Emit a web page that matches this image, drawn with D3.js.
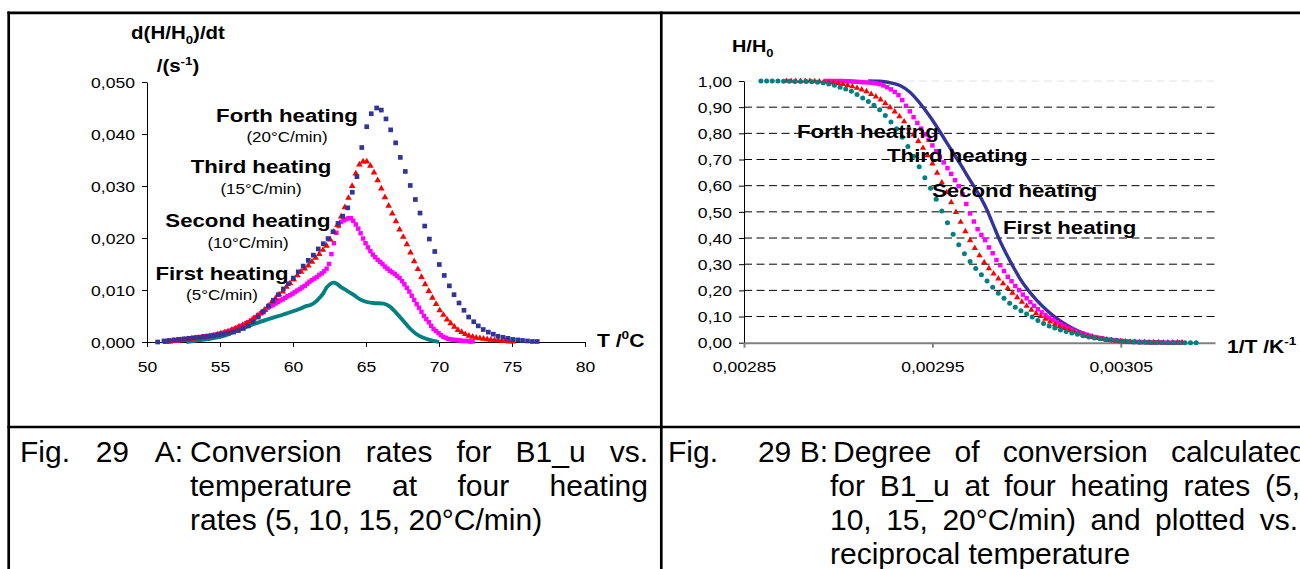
<!DOCTYPE html>
<html><head><meta charset="utf-8">
<script src="https://cdn.jsdelivr.net/npm/d3@7"></script>
<style>body{margin:0;background:#fff}svg{display:block}</style>
</head><body>
<svg id="c" width="1300" height="569"></svg>
<script>
// ---------------- DATA ----------------
// Fig. 29 A : conversion rate d(H/H0)/dt vs temperature (°C)
const rateXTicks = [50, 55, 60, 65, 70, 75, 80];
const rateYTicks = [0, 0.01, 0.02, 0.03, 0.04, 0.05];
// Forth heating (20°C/min) – blue squares
const forthRate = [[50.73,0.0000],[51.16,0.0002],[51.50,0.0003],[51.84,0.0004],[52.18,0.0005],[52.52,0.0006],[52.86,0.0007],[53.20,0.0008],[53.54,0.0009],[53.88,0.0010],[54.22,0.0011],[54.56,0.0012],[54.90,0.0014],[55.24,0.0015],[55.58,0.0017],[55.92,0.0019],[56.26,0.0022],[56.60,0.0026],[56.94,0.0031],[57.28,0.0039],[57.62,0.0048],[57.97,0.0058],[58.31,0.0069],[58.65,0.0080],[58.99,0.0091],[59.34,0.0102],[59.68,0.0112],[60.02,0.0123],[60.36,0.0135],[60.70,0.0146],[61.05,0.0157],[61.39,0.0167],[61.73,0.0179],[62.08,0.0189],[62.40,0.0199],[62.74,0.0212],[63.08,0.0228],[63.40,0.0242],[63.75,0.0258],[64.06,0.0288],[64.38,0.0318],[64.71,0.0374],[65.05,0.0414],[65.36,0.0439],[65.73,0.0450],[66.05,0.0446],[66.37,0.0429],[66.69,0.0408],[67.03,0.0383],[67.35,0.0355],[67.69,0.0328],[68.03,0.0301],[68.38,0.0274],[68.70,0.0248],[69.02,0.0223],[69.34,0.0198],[69.71,0.0174],[70.02,0.0149],[70.36,0.0128],[70.71,0.0108],[71.03,0.0091],[71.37,0.0075],[71.71,0.0061],[72.03,0.0048],[72.38,0.0039],[72.69,0.0031],[73.03,0.0024],[73.38,0.0019],[73.72,0.0015],[74.04,0.0011],[74.38,0.0009],[74.72,0.0007],[75.05,0.0005],[75.39,0.0004],[75.72,0.0003],[76.06,0.0002],[76.40,0.0001],[76.73,0.0001]];
// Third heating (15°C/min) – red triangles
const thirdRate = [[51.30,0.0000],[51.55,0.0001],[51.80,0.0002],[52.05,0.0003],[52.30,0.0003],[52.55,0.0004],[52.80,0.0005],[53.05,0.0006],[53.30,0.0007],[53.55,0.0008],[53.80,0.0009],[54.05,0.0010],[54.30,0.0011],[54.55,0.0012],[54.80,0.0014],[55.05,0.0016],[55.30,0.0018],[55.55,0.0020],[55.80,0.0023],[56.05,0.0026],[56.30,0.0029],[56.55,0.0032],[56.80,0.0036],[57.05,0.0040],[57.30,0.0045],[57.55,0.0050],[57.80,0.0056],[58.05,0.0062],[58.30,0.0069],[58.55,0.0077],[58.80,0.0084],[59.05,0.0091],[59.30,0.0097],[59.55,0.0106],[59.80,0.0113],[60.05,0.0120],[60.30,0.0128],[60.55,0.0135],[60.80,0.0141],[61.05,0.0147],[61.30,0.0154],[61.55,0.0162],[61.80,0.0169],[62.05,0.0177],[62.30,0.0185],[62.55,0.0197],[62.80,0.0212],[63.05,0.0225],[63.30,0.0241],[63.55,0.0259],[63.80,0.0277],[64.05,0.0300],[64.30,0.0324],[64.55,0.0341],[64.80,0.0347],[65.05,0.0347],[65.30,0.0339],[65.55,0.0326],[65.80,0.0311],[66.05,0.0295],[66.30,0.0278],[66.55,0.0262],[66.80,0.0247],[67.05,0.0232],[67.30,0.0216],[67.55,0.0202],[67.80,0.0188],[68.05,0.0172],[68.30,0.0155],[68.55,0.0140],[68.80,0.0125],[69.05,0.0111],[69.30,0.0098],[69.55,0.0085],[69.80,0.0073],[70.05,0.0061],[70.30,0.0052],[70.55,0.0043],[70.80,0.0036],[71.05,0.0029],[71.30,0.0023],[71.55,0.0019],[71.80,0.0015],[72.05,0.0012],[72.30,0.0010],[72.55,0.0008],[72.80,0.0007],[73.05,0.0006],[73.30,0.0005],[73.55,0.0004],[73.80,0.0003],[74.05,0.0003],[74.30,0.0002],[74.55,0.0002],[74.80,0.0001],[75.05,0.0001]];
// Second heating (10°C/min) – magenta squares
const secondRate = [[51.30,0.0001],[51.47,0.0001],[51.63,0.0002],[51.80,0.0002],[51.97,0.0003],[52.13,0.0003],[52.30,0.0004],[52.47,0.0004],[52.63,0.0005],[52.80,0.0006],[52.97,0.0007],[53.13,0.0007],[53.30,0.0008],[53.47,0.0009],[53.63,0.0009],[53.80,0.0010],[53.97,0.0011],[54.13,0.0011],[54.30,0.0012],[54.47,0.0013],[54.63,0.0014],[54.80,0.0015],[54.97,0.0016],[55.13,0.0017],[55.30,0.0018],[55.47,0.0020],[55.63,0.0021],[55.80,0.0023],[55.97,0.0025],[56.13,0.0027],[56.30,0.0029],[56.47,0.0031],[56.63,0.0033],[56.80,0.0036],[56.97,0.0038],[57.13,0.0041],[57.30,0.0045],[57.47,0.0048],[57.63,0.0052],[57.80,0.0055],[57.97,0.0059],[58.13,0.0062],[58.30,0.0066],[58.47,0.0069],[58.63,0.0071],[58.80,0.0074],[58.97,0.0077],[59.13,0.0080],[59.30,0.0082],[59.47,0.0085],[59.63,0.0088],[59.80,0.0090],[59.97,0.0093],[60.13,0.0096],[60.30,0.0099],[60.47,0.0102],[60.63,0.0105],[60.80,0.0108],[60.97,0.0112],[61.13,0.0116],[61.30,0.0119],[61.47,0.0122],[61.63,0.0125],[61.80,0.0129],[61.97,0.0132],[62.13,0.0136],[62.30,0.0141],[62.47,0.0150],[62.63,0.0169],[62.80,0.0190],[62.97,0.0210],[63.13,0.0223],[63.30,0.0231],[63.47,0.0234],[63.63,0.0236],[63.80,0.0238],[63.97,0.0238],[64.13,0.0233],[64.30,0.0226],[64.47,0.0218],[64.63,0.0209],[64.80,0.0199],[64.97,0.0190],[65.13,0.0182],[65.30,0.0175],[65.47,0.0168],[65.63,0.0163],[65.80,0.0158],[65.97,0.0154],[66.13,0.0150],[66.30,0.0145],[66.47,0.0141],[66.63,0.0137],[66.80,0.0134],[66.97,0.0131],[67.13,0.0127],[67.30,0.0123],[67.47,0.0117],[67.63,0.0111],[67.80,0.0104],[67.97,0.0097],[68.13,0.0089],[68.30,0.0081],[68.47,0.0073],[68.63,0.0066],[68.80,0.0058],[68.97,0.0050],[69.13,0.0044],[69.30,0.0038],[69.47,0.0031],[69.63,0.0025],[69.80,0.0021],[69.97,0.0017],[70.13,0.0013],[70.30,0.0010],[70.47,0.0008],[70.63,0.0006],[70.80,0.0005],[70.97,0.0004],[71.13,0.0004],[71.30,0.0003],[71.47,0.0003],[71.63,0.0002],[71.80,0.0002],[71.97,0.0002],[72.13,0.0001],[72.30,0.0001]];
// First heating (5°C/min) – teal line
const firstRate = [[52.70,0.0000],[53.50,0.0003],[54.50,0.0007],[55.30,0.0012],[55.90,0.0019],[56.50,0.0026],[57.28,0.0034],[58.20,0.0043],[59.34,0.0053],[60.00,0.0059],[60.48,0.0064],[60.90,0.0069],[61.20,0.0071],[61.62,0.0079],[61.85,0.0086],[62.08,0.0094],[62.31,0.0105],[62.53,0.0111],[62.76,0.0114],[63.00,0.0112],[63.22,0.0107],[63.68,0.0099],[64.13,0.0091],[64.59,0.0082],[65.05,0.0077],[65.50,0.0075],[66.19,0.0074],[66.64,0.0068],[67.10,0.0055],[67.55,0.0041],[68.01,0.0026],[68.47,0.0015],[68.93,0.0008],[69.38,0.0004],[69.80,0.0001],[70.00,0.0000]];

// Fig. 29 B : degree of conversion H/H0 vs 1/T (K^-1)
const convXTicks = [0.00285, 0.00295, 0.00305];
const convYTicks = [0, 0.1, 0.2, 0.3, 0.4, 0.5, 0.6, 0.7, 0.8, 0.9, 1.0];
// teal dots (Forth heating)
const forthConv = [[0.002859,1.000],[0.002862,1.000],[0.002865,1.000],[0.002868,1.000],[0.002871,0.999],[0.002874,0.999],[0.002877,0.998],[0.002880,0.998],[0.002883,0.998],[0.002886,0.997],[0.002889,0.995],[0.002892,0.993],[0.002895,0.989],[0.002898,0.984],[0.002901,0.976],[0.002904,0.969],[0.002907,0.961],[0.002910,0.948],[0.002913,0.935],[0.002916,0.922],[0.002919,0.907],[0.002922,0.890],[0.002925,0.868],[0.002928,0.843],[0.002931,0.818],[0.002934,0.785],[0.002937,0.750],[0.002940,0.712],[0.002943,0.672],[0.002946,0.630],[0.002949,0.590],[0.002952,0.548],[0.002955,0.503],[0.002958,0.458],[0.002961,0.414],[0.002964,0.374],[0.002967,0.340],[0.002970,0.310],[0.002973,0.284],[0.002976,0.260],[0.002979,0.236],[0.002982,0.212],[0.002985,0.189],[0.002988,0.170],[0.002991,0.151],[0.002994,0.135],[0.002997,0.122],[0.003000,0.110],[0.003003,0.098],[0.003006,0.085],[0.003009,0.073],[0.003012,0.064],[0.003015,0.056],[0.003018,0.049],[0.003021,0.043],[0.003024,0.037],[0.003027,0.032],[0.003030,0.027],[0.003033,0.022],[0.003036,0.018],[0.003039,0.015],[0.003042,0.012],[0.003045,0.010],[0.003048,0.008],[0.003051,0.006],[0.003054,0.004],[0.003057,0.003],[0.003060,0.002],[0.003063,0.002],[0.003066,0.001],[0.003069,0.001],[0.003072,0.001],[0.003075,0.000],[0.003078,0.000],[0.003081,0.000],[0.003084,0.000],[0.003087,0.000],[0.003090,0.000]];
// red triangles (Third heating)
const thirdConv = [[0.0028725,1.000],[0.0028750,1.000],[0.0028775,1.000],[0.0028800,1.000],[0.0028825,1.000],[0.0028850,1.000],[0.0028875,0.999],[0.0028900,0.998],[0.0028925,0.997],[0.0028950,0.996],[0.0028975,0.994],[0.0029000,0.992],[0.0029025,0.988],[0.0029050,0.984],[0.0029075,0.979],[0.0029100,0.973],[0.0029125,0.967],[0.0029150,0.960],[0.0029175,0.950],[0.0029200,0.940],[0.0029225,0.929],[0.0029250,0.915],[0.0029275,0.899],[0.0029300,0.883],[0.0029325,0.865],[0.0029350,0.845],[0.0029375,0.821],[0.0029400,0.795],[0.0029425,0.770],[0.0029450,0.744],[0.0029475,0.716],[0.0029500,0.684],[0.0029525,0.649],[0.0029550,0.612],[0.0029575,0.574],[0.0029600,0.536],[0.0029625,0.499],[0.0029650,0.461],[0.0029675,0.425],[0.0029700,0.391],[0.0029725,0.361],[0.0029750,0.333],[0.0029775,0.307],[0.0029800,0.284],[0.0029825,0.264],[0.0029850,0.245],[0.0029875,0.226],[0.0029900,0.208],[0.0029925,0.190],[0.0029950,0.173],[0.0029975,0.156],[0.0030000,0.140],[0.0030025,0.125],[0.0030050,0.112],[0.0030075,0.101],[0.0030100,0.091],[0.0030125,0.080],[0.0030150,0.070],[0.0030175,0.062],[0.0030200,0.055],[0.0030225,0.048],[0.0030250,0.041],[0.0030275,0.035],[0.0030300,0.030],[0.0030325,0.025],[0.0030350,0.021],[0.0030375,0.017],[0.0030400,0.014],[0.0030425,0.011],[0.0030450,0.009],[0.0030475,0.007],[0.0030500,0.005],[0.0030525,0.004],[0.0030550,0.003],[0.0030575,0.003],[0.0030600,0.002],[0.0030625,0.002],[0.0030650,0.001],[0.0030675,0.001],[0.0030700,0.001],[0.0030725,0.000],[0.0030750,0.000],[0.0030775,0.000],[0.0030800,0.000],[0.0030825,0.000]];
// magenta squares (Second heating)
const secondConv = [[0.002894,1.000],[0.002896,1.000],[0.002898,1.000],[0.002900,1.000],[0.002902,1.000],[0.002904,0.999],[0.002906,0.999],[0.002908,0.998],[0.002910,0.997],[0.002912,0.996],[0.002914,0.995],[0.002916,0.994],[0.002918,0.993],[0.002920,0.991],[0.002922,0.988],[0.002924,0.983],[0.002926,0.976],[0.002928,0.968],[0.002930,0.958],[0.002932,0.946],[0.002934,0.927],[0.002936,0.905],[0.002938,0.884],[0.002940,0.862],[0.002942,0.840],[0.002944,0.818],[0.002946,0.796],[0.002948,0.775],[0.002950,0.754],[0.002952,0.732],[0.002954,0.710],[0.002956,0.689],[0.002958,0.667],[0.002960,0.645],[0.002962,0.621],[0.002964,0.598],[0.002966,0.567],[0.002968,0.530],[0.002970,0.494],[0.002972,0.463],[0.002974,0.434],[0.002976,0.412],[0.002978,0.392],[0.002980,0.364],[0.002982,0.342],[0.002984,0.316],[0.002986,0.296],[0.002988,0.274],[0.002990,0.252],[0.002992,0.235],[0.002994,0.217],[0.002996,0.201],[0.002998,0.184],[0.003000,0.170],[0.003002,0.155],[0.003004,0.141],[0.003006,0.128],[0.003008,0.116],[0.003010,0.106],[0.003012,0.096],[0.003014,0.087],[0.003016,0.078],[0.003018,0.070],[0.003020,0.063],[0.003022,0.056],[0.003024,0.050],[0.003026,0.044],[0.003028,0.038],[0.003030,0.034],[0.003032,0.030],[0.003034,0.026],[0.003036,0.022],[0.003038,0.019],[0.003040,0.017],[0.003042,0.014],[0.003044,0.012],[0.003046,0.010],[0.003048,0.008],[0.003050,0.007],[0.003052,0.005],[0.003054,0.004],[0.003056,0.003],[0.003058,0.003],[0.003060,0.002],[0.003062,0.002],[0.003064,0.002],[0.003066,0.001],[0.003068,0.001],[0.003070,0.001],[0.003072,0.001],[0.003074,0.000],[0.003076,0.000],[0.003078,0.000],[0.003080,0.000],[0.003082,0.000]];
// blue line (First heating)
const firstConv = [[0.0029159,1.000],[0.0029222,0.999],[0.0029292,0.991],[0.0029328,0.983],[0.0029381,0.957],[0.0029434,0.915],[0.0029487,0.864],[0.0029540,0.806],[0.0029593,0.745],[0.0029646,0.685],[0.0029699,0.622],[0.0029752,0.560],[0.0029788,0.510],[0.0029823,0.450],[0.0029858,0.390],[0.0029894,0.337],[0.0029929,0.290],[0.0029964,0.246],[0.0030008,0.201],[0.0030053,0.163],[0.0030106,0.125],[0.0030159,0.093],[0.0030212,0.068],[0.0030283,0.042],[0.0030353,0.024],[0.0030424,0.013],[0.0030495,0.006],[0.0030601,0.002],[0.0030690,0.000]];

const rateLabels = [["Forth heating","(20°C/min)"],["Third heating","(15°C/min)"],["Second heating","(10°C/min)"],["First heating","(5°C/min)"]];
const convLabels = ["Forth heating","Third heating","Second heating","First heating"];
const captionA = [["Fig.","29","A:"],["Conversion","rates","for","B1_u","vs."],["temperature","at","four","heating"],"rates (5, 10, 15, 20°C/min)"];
const captionB = [["Fig.","29 B:"],["Degree","of","conversion","calculated"],["for","B1_u","at","four","heating","rates","(5,"],["10,","15,","20°C/min)","and","plotted","vs."],"reciprocal temperature"];

// ---------------- DRAWING ----------------
const FONT = "'Liberation Sans', Arial, Helvetica, sans-serif";
const SX = 1.17;   // horizontal stretch of the chart pictures
const C = {blue:"#333399", red:"#ff0000", mag:"#ff00ff", teal:"#008080"};
const svg = d3.select("#c");
const comma = f => v => f(v).replace(".", ",");

function stext(parent, x, y, parts, o) {
  const size = o.size;
  const t = parent.append("text")
    .attr("transform", `translate(${x},${y}) scale(${o.sx ?? SX},1)`)
    .attr("text-anchor", o.anchor || "start")
    .attr("font-family", FONT).attr("font-size", size)
    .attr("font-weight", o.weight || "normal").attr("fill", "#000");
  let shift = 0;
  parts.forEach(p => {
    const [s, kind] = Array.isArray(p) ? p : [p, ""];
    const ts = t.append("tspan").text(s);
    const target = kind === "sub" ? size * 0.28 : kind === "sup" ? -size * 0.42 : 0;
    if (target !== shift) { ts.attr("dy", target - shift); shift = target; }
    if (kind) ts.attr("font-size", size * 0.65);
  });
  return t;
}

// table borders
const bord = svg.append("g").attr("stroke", "#000").attr("stroke-width", 2.7);
bord.append("line").attr("x1", 7.4).attr("x2", 1300).attr("y1", 12.8).attr("y2", 12.8);
bord.append("line").attr("x1", 8.7).attr("x2", 8.7).attr("y1", 11.5).attr("y2", 569);
bord.append("line").attr("x1", 661.3).attr("x2", 661.3).attr("y1", 11.5).attr("y2", 569);
bord.append("line").attr("x1", 7.4).attr("x2", 1300).attr("y1", 427).attr("y2", 427);

// ===== left chart =====
const xL = d3.scaleLinear().domain([50, 80]).range([147, 585]);
const yL = d3.scaleLinear().domain([0, 0.05]).range([342, 82]);
const gL = svg.append("g");

const ayL = gL.append("g").attr("transform", `translate(${xL(50)},0)`)
  .call(d3.axisLeft(yL).tickValues(rateYTicks).tickSize(5).tickSizeOuter(0).tickFormat(comma(d3.format(".3f"))));
const axL = gL.append("g").attr("transform", `translate(0,${yL(0)})`)
  .call(d3.axisBottom(xL).tickValues(rateXTicks).tickSize(5).tickSizeOuter(0).tickFormat(d3.format("d")));
[ayL, axL].forEach(a => {
  a.attr("font-family", FONT).attr("font-size", 15);
  a.selectAll("path,line").attr("stroke", "#000").attr("stroke-width", 1);
});
ayL.selectAll("text").attr("transform", `scale(${SX},1)`).attr("x", -12 / SX).attr("dy", "0.35em").attr("fill", "#000");
axL.selectAll("text").attr("transform", `scale(${SX},1)`).attr("y", 30).attr("dy", 0).attr("fill", "#000");

// series
const lineL = d3.line().x(d => xL(d[0])).y(d => yL(d[1])).curve(d3.curveMonotoneX);
gL.append("path").datum(firstRate).attr("d", lineL).attr("fill", "none")
  .attr("stroke", C.teal).attr("stroke-width", 3.8).attr("stroke-linejoin", "round");
function markers(g, data, xs, ys, type, size, color) {
  g.append("g").selectAll("path").data(data).join("path")
    .attr("transform", d => `translate(${xs(d[0])},${ys(d[1])})`)
    .attr("d", d3.symbol(type, size)).attr("fill", color);
}
markers(gL, secondRate, xL, yL, d3.symbolSquare, 20, C.mag);
markers(gL, thirdRate, xL, yL, d3.symbolTriangle, 19, C.red);
markers(gL, forthRate, xL, yL, d3.symbolSquare, 22, C.blue);

// axis titles
stext(gL, 178, 39, ["d(H/H", ["0", "sub"], ")/dt"], {size: 17.5, weight: "bold", anchor: "middle"});
stext(gL, 178, 72, ["/(s", ["-1", "sup"], ")"], {size: 17.5, weight: "bold", anchor: "middle"});
stext(gL, 597, 347, ["T /", ["0", "sup"], "C"], {size: 18, weight: "bold"});
// series labels
const rateLabelPos = [[287, 122, 142], [261, 173, 194], [248, 227, 248], [222, 280, 300]];
rateLabels.forEach((l, i) => {
  const p = rateLabelPos[i];
  stext(gL, p[0], p[1], [l[0]], {size: 19, weight: "bold", anchor: "middle"});
  stext(gL, p[0], p[2], [l[1]], {size: 14.5, anchor: "middle"});
});

// ===== right chart =====
const xR = d3.scaleLinear().domain([0.00285, 0.0031]).range([744, 1215]);
const yR = d3.scaleLinear().domain([0, 1]).range([342.7, 81]);
const gR = svg.append("g");
gR.append("g").selectAll("line").data(convYTicks.filter(v => v > 0)).join("line")
  .attr("x1", xR(0.00285)).attr("x2", xR(0.0031))
  .attr("y1", d => yR(d)).attr("y2", d => yR(d))
  .attr("stroke", d => d === 1 ? "#e4e4e4" : "#000").attr("stroke-width", 1)
  .attr("stroke-dasharray", "8,4.5");

const ayR = gR.append("g").attr("transform", `translate(${xR(0.00285)},0)`)
  .call(d3.axisLeft(yR).tickValues(convYTicks).tickSize(5).tickSizeOuter(0).tickFormat(comma(d3.format(".2f"))));
const axR = gR.append("g").attr("transform", `translate(0,${yR(0)})`)
  .call(d3.axisBottom(xR).tickValues(convXTicks).tickSize(5).tickSizeOuter(0).tickFormat(comma(d3.format(".5f"))));
[ayR, axR].forEach(a => a.attr("font-family", FONT).attr("font-size", 15));
ayR.selectAll("path,line").attr("stroke", "#000").attr("stroke-width", 1);
axR.selectAll("path,line").attr("stroke", "#808080").attr("stroke-width", 2);
ayR.selectAll("text").attr("transform", `scale(${SX},1)`).attr("x", -12 / SX).attr("dy", "0.35em").attr("fill", "#000");
axR.selectAll("text").attr("transform", `scale(${SX},1)`).attr("y", 29).attr("dy", 0).attr("fill", "#000");

const lineR = d3.line().x(d => xR(d[0])).y(d => yR(d[1])).curve(d3.curveMonotoneX);
gR.append("path").datum(firstConv).attr("d", lineR).attr("fill", "none")
  .attr("stroke", C.blue).attr("stroke-width", 3.4);
markers(gR, secondConv, xR, yR, d3.symbolSquare, 20, C.mag);
markers(gR, thirdConv, xR, yR, d3.symbolTriangle, 17, C.red);
gR.append("g").selectAll("circle").data(forthConv).join("circle")
  .attr("cx", d => xR(d[0])).attr("cy", d => yR(d[1])).attr("r", 2.5).attr("fill", C.teal);

stext(gR, 732, 52, ["H/H", ["0", "sub"]], {size: 17, weight: "bold"});
stext(gR, 1227, 353, ["1/T /K", ["-1", "sup"]], {size: 18, weight: "bold"});
const convLabelPos = [[797, 138], [887, 162], [932, 197], [1003, 234]];
convLabels.forEach((l, i) => stext(gR, convLabelPos[i][0], convLabelPos[i][1], [l], {size: 19, weight: "bold"}));

// ===== captions =====
const CAP = 30;
function capWords(words, x0, x1, y) {
  const g = svg.append("g").attr("font-family", FONT).attr("font-size", CAP).attr("fill", "#000");
  const nodes = words.map(w => g.append("text").attr("y", y).text(w));
  const widths = nodes.map(n => n.node().getComputedTextLength());
  const gap = words.length > 1 ? (x1 - x0 - d3.sum(widths)) / (words.length - 1) : 0;
  let x = x0;
  nodes.forEach((n, i) => { n.attr("x", x); x += widths[i] + gap; });
}
function capLine(str, x, y) {
  svg.append("text").attr("x", x).attr("y", y).attr("font-family", FONT).attr("font-size", CAP).text(str);
}
const capY = [462, 496, 530, 564];
capWords(captionA[0], 20, 183, capY[0]);
capWords(captionA[1], 190, 648, capY[0]);
capWords(captionA[2], 190, 648, capY[1]);
capLine(captionA[3], 190, capY[2]);
capWords(captionB[0], 668, 828, capY[0]);
capWords(captionB[1], 833, 1306, capY[0]);
capWords(captionB[2], 830, 1300, capY[1]);
capWords(captionB[3], 830, 1298, capY[2]);
capLine(captionB[4], 830, capY[3]);
</script>
</body></html>
